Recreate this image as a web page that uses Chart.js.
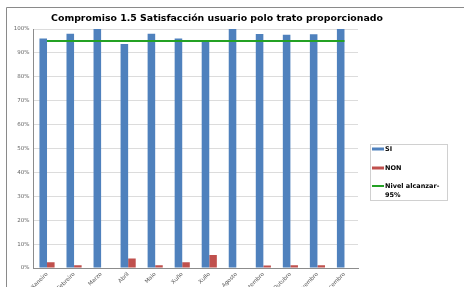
<!DOCTYPE html>
<html><head><meta charset="utf-8">
<script src="https://cdn.jsdelivr.net/npm/chart.js@4/dist/chart.umd.min.js"></script>
<style>html,body{margin:0;padding:0;background:#fff}#wrap{width:464px;height:287px;position:relative}</style>
</head><body><div id="wrap"><canvas id="c" width="464" height="287"></canvas></div>
<script>
const titleText = "Compromiso 1.5 Satisfacción usuario polo trato proporcionado";
const months = ["Xaneiro","Febreiro","Marzo","Abril","Maio","Xuño","Xullo","Agosto","Setembro","Outubro","Novembro","Decembro"];
const siValues = [96, 98, 100, 93.7, 98, 96, 95.1, 100, 97.9, 97.6, 97.8, 100];
const nonValues = [2.4, 1.1, 0, 4, 1.1, 2.4, 5.4, 0, 1, 1.1, 1.1, 0];
const targetValues = [95, 95, 95, 95, 95, 95, 95, 95, 95, 95, 95, 95];
const seriesLabels = ["SI", "NON", "Nivel alcanzar-95%"];
const yTicks = [0,10,20,30,40,50,60,70,80,90,100];

const colors = ["#4f81bd", "#c0504d", "#24a124"];

const decor = {
  id: 'decor',
  afterDraw(chart) {
    const ctx = chart.ctx;
    ctx.save();
    ctx.strokeStyle = '#8a8a8a';
    ctx.lineWidth = 1;
    ctx.beginPath();
    ctx.moveTo(6.5, 287); ctx.lineTo(6.5, 7.5); ctx.lineTo(464, 7.5);
    ctx.stroke();
    ctx.fillStyle = '#000';
    ctx.font = 'bold 9.4px "DejaVu Sans", sans-serif';
    ctx.textAlign = 'center';
    ctx.textBaseline = 'middle';
    ctx.fillText(titleText, 217, 19);
    const lx = 370.5, ly = 144.5, lw = 77, lh = 56;
    ctx.strokeStyle = '#d0d0d0';
    ctx.strokeRect(lx, ly, lw, lh);
    ctx.font = 'bold 6.5px "DejaVu Sans", sans-serif';
    ctx.textAlign = 'left';
    const items = [
      {y: 149, type: 'box'},
      {y: 168, type: 'box'},
      {y: 186, type: 'line'}
    ];
    chart.data.datasets.forEach((ds, i) => {
      const it = items[i];
      ctx.fillStyle = colors[i];
      if (it.type === 'box') ctx.fillRect(372, it.y - 1.5, 12, 3);
      else ctx.fillRect(372, it.y - 1, 12, 2);
      ctx.fillStyle = '#000';
      if (i === 2) {
        ctx.fillText('Nivel alcanzar-', 385, it.y);
        ctx.fillText('95%', 385, it.y + 9);
      } else {
        ctx.fillText(ds.label, 385, it.y);
      }
    });
    ctx.restore();
  }
};

new Chart(document.getElementById('c'), {
  data: {
    labels: months,
    datasets: [
      {type: 'bar', label: seriesLabels[0], data: siValues, backgroundColor: colors[0], order: 2},
      {type: 'bar', label: seriesLabels[1], data: nonValues, backgroundColor: colors[1], order: 2},
      {type: 'line', label: seriesLabels[2], data: targetValues, borderColor: colors[2], borderWidth: 2, pointRadius: 0, fill: false, order: 1}
    ]
  },
  options: {
    responsive: false,
    animation: false,
    devicePixelRatio: 1,
    layout: {padding: {left: 0, right: 106, top: 29, bottom: 0}},
    plugins: {legend: {display: false}, title: {display: false}, tooltip: {enabled: false}},
    datasets: {bar: {categoryPercentage: 0.56, barPercentage: 1}},
    scales: {
      x: {
        grid: {display: false, drawTicks: false},
        border: {color: '#8c8c8c'},
        ticks: {color: '#555', font: {size: 5.5, family: 'DejaVu Sans'}, maxRotation: 45, minRotation: 45, padding: 3, autoSkip: false},
        afterFit(s) { s.height = 19; }
      },
      y: {
        min: 0, max: 100,
        afterBuildTicks(s) { s.ticks = yTicks.map(v => ({value: v})); },
        grid: {color: '#dcdcdc', drawTicks: false},
        border: {color: '#8c8c8c'},
        ticks: {color: '#666', font: {size: 5.5, family: 'DejaVu Sans'}, padding: 4, callback: v => v + '%'},
        afterFit(s) { s.width = 33.5; }
      }
    }
  },
  plugins: [decor]
});
</script></body></html>
